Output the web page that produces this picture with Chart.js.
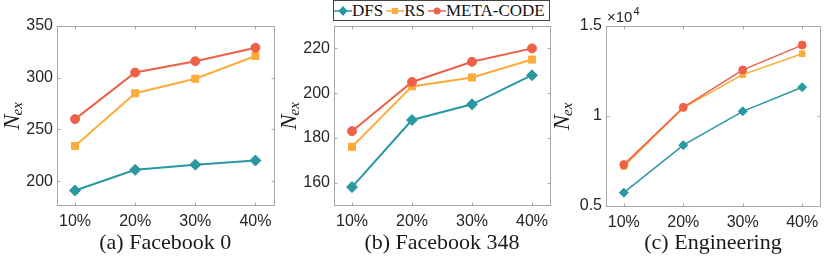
<!DOCTYPE html>
<html>
<head>
<meta charset="utf-8">
<script src="https://cdn.jsdelivr.net/npm/chart.js@4.4.0/dist/chart.umd.min.js"></script>
<style>
body { margin: 0; background: #fff; width: 830px; height: 261px; position: relative; overflow: hidden; }
canvas { position: absolute; top: 0; }
#legend { position: absolute; left: 333px; top: 0; width: 217px; height: 21px; box-sizing: border-box;
  border: 1px solid #444; background: #fff; display: flex; align-items: center; white-space: nowrap;
  font: 17px "Liberation Serif", serif; color: #111; z-index: 2; padding-left: 0px; }
#legend .item { display: flex; align-items: center; margin-right: 3px; }
#legend svg { display: block; flex: none; }
</style>
</head>
<body>
<div id="legend"></div>
<canvas id="c1" width="280" height="261" style="left:0px"></canvas>
<canvas id="c2" width="290" height="261" style="left:270px"></canvas>
<canvas id="c3" width="290" height="261" style="left:540px"></canvas>
<script>
// x categories
const xLabels = ['10%', '20%', '30%', '40%'];
const xPos = [1, 2, 3, 4];

const seriesNames = ['DFS', 'RS', 'META-CODE'];
const colors = ['#2a98a3', '#fbad3b', '#ee6149'];
const shapes = ['rectRot', 'rect', 'circle'];

// (a) Facebook 0
const fb0_dfs = [191, 211, 216, 220];
const fb0_rs = [234, 285, 299, 321];
const fb0_meta = [260, 305, 316, 329];
const fb0_yTicks = [200, 250, 300, 350];
const fb0_yLabels = ['200', '250', '300', '350'];

// (b) Facebook 348
const fb348_dfs = [158, 188, 195, 208];
const fb348_rs = [176, 203, 207, 215];
const fb348_meta = [183, 205, 214, 220];
const fb348_yTicks = [160, 180, 200, 220];
const fb348_yLabels = ['160', '180', '200', '220'];

// (c) Engineering
const eng_dfs = [5740, 8380, 10260, 11600];
const eng_rs = [7190, 10450, 12300, 13460];
const eng_meta = [7300, 10480, 12560, 13940];
const eng_yTicks = [5000, 10000, 15000];
const eng_yLabels = ['0.5', '1', '1.5'];

const captions = ['(a) Facebook 0', '(b) Facebook 348', '(c) Engineering'];

Chart.defaults.font.family = '"Liberation Sans", Arial, sans-serif';
Chart.defaults.color = '#262626';

// box, inward ticks, y title, caption, exponent
const framePlugin = {
  id: 'frame',
  beforeDatasetsDraw(chart, args, opts) {
    const ctx = chart.ctx, a = chart.chartArea, sx = chart.scales.x, sy = chart.scales.y;
    const l = Math.round(a.left) + 0.5, r = Math.round(a.right) + 0.5;
    const t = Math.round(a.top) + 0.5, b = Math.round(a.bottom) + 0.5;
    ctx.save();
    ctx.strokeStyle = '#a9a9a9';
    ctx.lineWidth = 1;
    ctx.strokeRect(l, t, r - l, b - t);
    ctx.beginPath();
    sx.ticks.forEach(tk => {
      const px = Math.round(sx.getPixelForValue(tk.value)) + 0.5;
      ctx.moveTo(px, b); ctx.lineTo(px, b - 3);
      ctx.moveTo(px, t); ctx.lineTo(px, t + 3);
    });
    sy.ticks.forEach(tk => {
      const py = Math.round(sy.getPixelForValue(tk.value)) + 0.5;
      ctx.moveTo(l, py); ctx.lineTo(l + 3, py);
      ctx.moveTo(r, py); ctx.lineTo(r - 3, py);
    });
    ctx.stroke();
    ctx.restore();
  },
  afterDraw(chart, args, opts) {
    const ctx = chart.ctx, a = chart.chartArea;
    ctx.save();
    ctx.fillStyle = '#1a1a1a';
    // caption below the x ticks
    ctx.font = '22px "Liberation Serif", serif';
    ctx.textAlign = 'center';
    ctx.textBaseline = 'alphabetic';
    ctx.fillText(opts.caption, (a.left + a.right) / 2, 249);
    ctx.textAlign = 'left';
    // y title N_ex
    ctx.translate(a.left - opts.titleOffset, (a.top + a.bottom) / 2);
    ctx.rotate(-Math.PI / 2);
    const big = 'italic 23px "Liberation Serif", serif';
    const small = 'italic 15px "Liberation Serif", serif';
    ctx.font = big;
    const wN = ctx.measureText('N').width;
    ctx.font = small;
    const wS = ctx.measureText('ex').width;
    const x0 = -(wN + wS) / 2;
    ctx.font = big;
    ctx.fillText('N', x0, 7);
    ctx.font = small;
    ctx.fillText('ex', x0 + wN - 1, 10);
    ctx.restore();
    if (opts.exponent) {
      ctx.save();
      ctx.fillStyle = '#262626';
      ctx.font = '15px "Liberation Sans", Arial, sans-serif';
      ctx.fillText('\u00d710', a.left + 1, a.top - 4);
      const w = ctx.measureText('\u00d710').width;
      ctx.font = '11px "Liberation Sans", Arial, sans-serif';
      ctx.fillText('4', a.left + 2 + w, a.top - 11);
      ctx.restore();
    }
  }
};

function makeChart(id, values, yMin, yMax, yTicks, yLabels, caption, lay) {
  const datasets = values.map((vals, k) => ({
    label: seriesNames[k],
    data: vals.map((v, i) => ({ x: xPos[i], y: v })),
    borderColor: colors[k],
    backgroundColor: colors[k],
    pointBackgroundColor: colors[k],
    pointBorderColor: colors[k],
    pointBorderWidth: 1,
    pointStyle: shapes[k],
    pointRadius: lay.radii[k],
    borderWidth: lay.lineWidth,
    tension: 0,
    order: 2 - k
  }));
  return new Chart(document.getElementById(id), {
    type: 'line',
    data: { datasets: datasets },
    options: {
      responsive: false,
      animation: false,
      devicePixelRatio: 1,
      layout: { padding: { left: 0, right: lay.padRight, top: 26, bottom: 0 } },
      plugins: {
        legend: { display: false },
        tooltip: { enabled: false },
        frame: { titleOffset: lay.titleOffset, exponent: lay.exponent, caption: caption }
      },
      scales: {
        x: {
          type: 'linear', min: 0.7, max: 4.3,
          afterBuildTicks: s => { s.ticks = xPos.map(v => ({ value: v })); },
          afterFit: s => { s.height = lay.xHeight; },
          grid: { display: false, drawTicks: false },
          border: { display: false },
          ticks: { padding: 7, font: { size: 16 }, callback: (v) => xLabels[xPos.indexOf(v)] }
        },
        y: {
          min: yMin, max: yMax,
          afterBuildTicks: s => { s.ticks = yTicks.map(v => ({ value: v })); },
          afterFit: s => { s.width = lay.axisLeft; },
          grid: { display: false, drawTicks: false },
          border: { display: false },
          ticks: { padding: 4, font: { size: 16 }, callback: (v) => yLabels[yTicks.indexOf(v)] }
        }
      }
    },
    plugins: [framePlugin]
  });
}

makeChart('c1', [fb0_dfs, fb0_rs, fb0_meta], 177, 350, fb0_yTicks, fb0_yLabels, captions[0],
  { axisLeft: 57, padRight: 6, xHeight: 56, titleOffset: 45, radii: [5.5, 5, 4.5], lineWidth: 2 });
makeChart('c2', [fb348_dfs, fb348_rs, fb348_meta], 150, 230, fb348_yTicks, fb348_yLabels, captions[1],
  { axisLeft: 64, padRight: 10, xHeight: 56, titleOffset: 45, radii: [5.5, 5, 4.5], lineWidth: 2 });
makeChart('c3', [eng_dfs, eng_rs, eng_meta], 5000, 15000, eng_yTicks, eng_yLabels, captions[2],
  { axisLeft: 66, padRight: 10, xHeight: 55, titleOffset: 44, radii: [4.5, 4, 4], lineWidth: 1.5, exponent: true });

// legend
const legend = document.getElementById('legend');
seriesNames.forEach((name, k) => {
  const c = colors[k];
  let mark;
  if (k === 0) mark = `<polygon points="9,5 13.5,10 9,15 4.5,10" fill="${c}"/>`;
  else if (k === 1) mark = `<rect x="6" y="7" width="6" height="6" fill="${c}"/>`;
  else mark = `<circle cx="9" cy="10" r="3.5" fill="${c}"/>`;
  const item = document.createElement('div');
  item.className = 'item';
  item.innerHTML = `<svg width="18" height="20"><line x1="0" y1="10" x2="18" y2="10" stroke="${c}" stroke-width="1.5"/>${mark}</svg><span>${name}</span>`;
  legend.appendChild(item);
});
</script>
</body>
</html>
